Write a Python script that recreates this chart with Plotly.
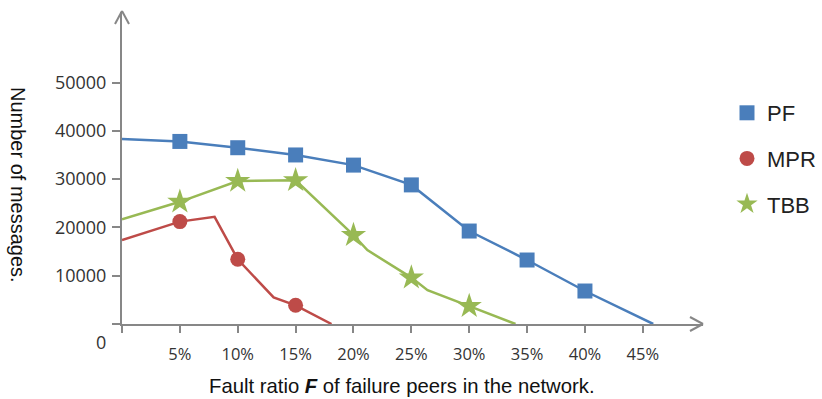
import plotly.graph_objects as go

# ---- data ----
pf_x = [0, 5, 10, 15, 20, 25, 30, 35, 40, 45.9]
pf_y = [38300, 37800, 36500, 35000, 32900, 28800, 19250, 13250, 6830, 0]
pf_mark = [False, True, True, True, True, True, True, True, True, False]

mpr_x = [0, 5, 8, 10, 13.1, 15, 18.1]
mpr_y = [17400, 21200, 22200, 13400, 5500, 3870, 0]
mpr_mark = [False, True, False, True, False, True, False]

tbb_x = [0, 5, 10, 15, 20, 21.2, 25, 26.4, 30, 34.0]
tbb_y = [21700, 25300, 29600, 29750, 18400, 15300, 9600, 7000, 3700, 0]
tbb_mark = [False, True, True, True, True, False, True, False, True, False]

x_ticks = [0, 5, 10, 15, 20, 25, 30, 35, 40, 45]
x_labels = ["", "5%", "10%", "15%", "20%", "25%", "30%", "35%", "40%", "45%"]
y_ticks = [0, 10000, 20000, 30000, 40000, 50000]
y_labels = ["", "10000", "20000", "30000", "40000", "50000"]

series = [
    ("PF", pf_x, pf_y, pf_mark, "#4A7EBB", "square", 15),
    ("MPR", mpr_x, mpr_y, mpr_mark, "#BE4B48", "circle", 15),
    ("TBB", tbb_x, tbb_y, tbb_mark, "#98B954", "star", 19),
]

W, H = 822, 399
L, R, T, B = 122, 119, 12, 75
PW, PH = W - L - R, H - T - B
AXC = "#878787"

fig = go.Figure()
for name, xs, ys, mk, col, sym, sz in series:
    fig.add_trace(go.Scatter(x=xs, y=ys, mode="lines", line=dict(color=col, width=2.5),
                             showlegend=False, hoverinfo="skip", cliponaxis=False))
    mx = [x for x, m in zip(xs, mk) if m]
    my = [y for y, m in zip(ys, mk) if m]
    fig.add_trace(go.Scatter(x=mx, y=my, mode="markers", name=name, legendgroup=name,
                             marker=dict(color=col, symbol=sym, size=sz, line=dict(width=0)),
                             cliponaxis=False))

def px(x):
    return (x - L) / PW

def py(y):
    return (H - B - y) / PH

shapes = []
# y-axis arrow head at top
for dx in (-7, 7):
    shapes.append(dict(type="line", xref="paper", yref="paper",
                       x0=px(122), y0=py(11), x1=px(122 + dx), y1=py(24),
                       line=dict(color=AXC, width=2)))
# x-axis arrow head at right
for dy in (-7, 7):
    shapes.append(dict(type="line", xref="paper", yref="paper",
                       x0=px(703), y0=py(324), x1=px(690), y1=py(324 + dy),
                       line=dict(color=AXC, width=2)))

annotations = [
    dict(text="0", xref="paper", yref="paper", x=px(101), y=py(342), showarrow=False,
         font=dict(family="Open Sans", size=18, color="#333333"), xanchor="center", yanchor="middle"),
    dict(text="Number of messages.", xref="paper", yref="paper", x=px(18), y=py(185),
         textangle=90, showarrow=False, xanchor="center", yanchor="middle",
         font=dict(family="Liberation Sans", size=20, color="#111111")),
    dict(text="Fault ratio <b><i>F</i></b> of failure peers in the network.",
         xref="paper", yref="paper", x=px(401.5), y=py(386), showarrow=False,
         xanchor="center", yanchor="middle",
         font=dict(family="Liberation Sans", size=20.3, color="#111111")),
]

fig.update_layout(
    width=W, height=H,
    margin=dict(l=L, r=R, t=T, b=B, pad=0, autoexpand=False),
    paper_bgcolor="white", plot_bgcolor="white",
    shapes=shapes, annotations=annotations,
    xaxis=dict(range=[0, 50.2], showgrid=False, zeroline=False, automargin=False,
               showline=True, linecolor=AXC, linewidth=2,
               tickmode="array", tickvals=x_ticks, ticktext=x_labels,
               ticks="outside", ticklen=7, tickwidth=2, tickcolor=AXC,
               ticklabelstandoff=7,
               tickfont=dict(family="Open Sans", size=16.5, color="#333333")),
    yaxis=dict(range=[0, 64600], showgrid=False, zeroline=False, automargin=False,
               showline=True, linecolor=AXC, linewidth=2,
               tickmode="array", tickvals=y_ticks, ticktext=y_labels,
               ticks="outside", ticklen=8, tickwidth=2, tickcolor=AXC,
               ticklabelstandoff=2,
               tickfont=dict(family="Open Sans", size=18, color="#333333")),
    legend=dict(x=px(727), y=py(92), xanchor="left", yanchor="top",
                font=dict(family="Liberation Sans", size=22, color="#222222"),
                tracegroupgap=14, bgcolor="rgba(0,0,0,0)"),
    showlegend=True,
)

fig.write_html("out.html")
